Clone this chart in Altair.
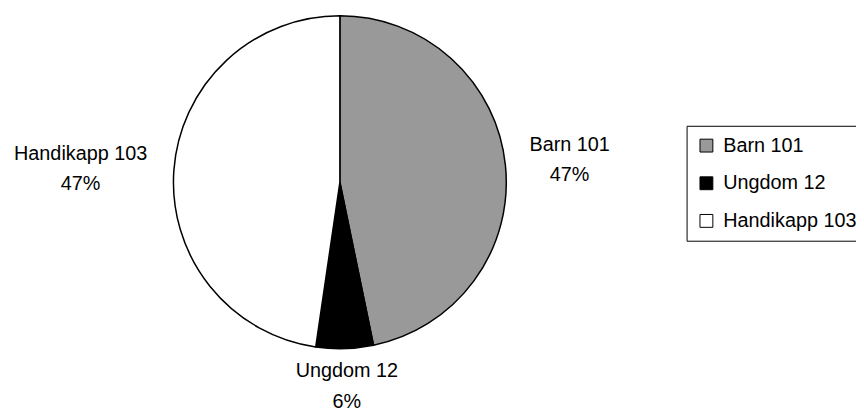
import altair as alt
import pandas as pd

categories = ["Barn 101", "Ungdom 12", "Handikapp 103"]
values = [101, 12, 103]
percent_labels = ["47%", "6%", "47%"]
colors = ["#999999", "#000000", "#ffffff"]

df = pd.DataFrame({
    "category": categories,
    "value": values,
    "pct": percent_labels,
    "order": list(range(len(categories))),
})
df["label"] = df["category"] + "\n" + df["pct"]

CX, CY, R = 335, 174, 168
FONT = "Liberation Sans"

pie = alt.Chart(df).mark_arc(outerRadius=R, stroke="black", strokeWidth=1.5).encode(
    theta=alt.Theta("value:Q", stack=True),
    order=alt.Order("order:Q"),
    x=alt.value(CX),
    y=alt.value(CY),
    color=alt.Color(
        "category:N",
        sort=categories,
        scale=alt.Scale(domain=categories, range=colors),
        legend=alt.Legend(
            title=None,
            orient="none",
            legendX=685,
            legendY=117,
            strokeColor="black",
            fillColor="white",
            padding=10,
            symbolType="square",
            symbolSize=169,
            symbolStrokeColor="black",
            symbolStrokeWidth=1,
            symbolOpacity=1,
            labelFont=FONT,
            labelFontSize=20,
            labelColor="black",
            labelOffset=7,
            rowPadding=18,
        ),
    ),
)

labels = alt.Chart(df).transform_joinaggregate(
    total="sum(value)"
).transform_window(
    cum="sum(value)", sort=[alt.SortField("order")], frame=[None, 0]
).transform_calculate(
    lr="datum.category == 'Handikapp 103' ? 262 : (datum.category == 'Ungdom 12' ? 206 : 233)",
    nudge="datum.category == 'Handikapp 103' ? -0.022 : (datum.category == 'Barn 101' ? 0.006 : -0.005)",
).transform_calculate(
    mid="2 * PI * (datum.cum - datum.value / 2) / datum.total + datum.nudge"
).mark_text(
    font=FONT, fontSize=20, lineBreak="\n", lineHeight=31,
    align="center", baseline="middle", color="black", dy=-15.5,
).encode(
    x=alt.value(CX),
    y=alt.value(CY),
    theta=alt.Theta("mid:Q", scale=None),
    radius=alt.Radius("lr:Q", scale=None),
    text="label:N",
)

chart = alt.layer(pie, labels).properties(
    width=856, height=404, autosize="none", padding=0, background="white"
).configure_view(stroke=None)

chart.save("out.html", embed_options={"renderer": "svg", "actions": False})
